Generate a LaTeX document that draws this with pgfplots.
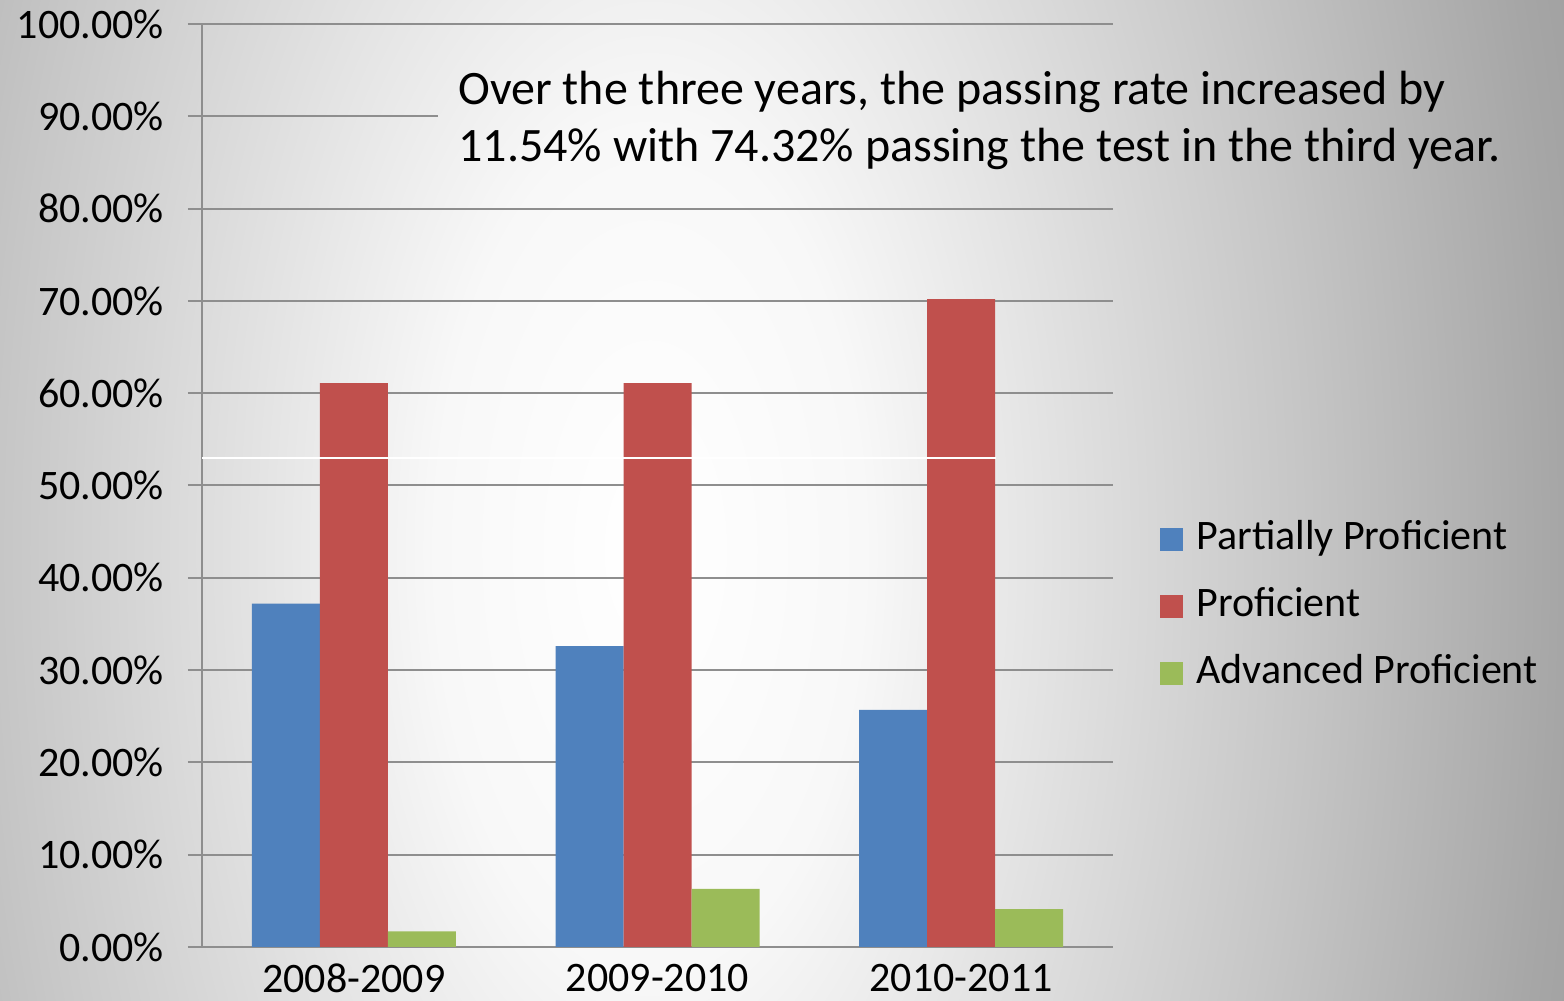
\documentclass[border=0pt]{standalone}
\usepackage{fontspec}
\setmainfont{Carlito}
\usepackage{pgfplots}
\pgfplotsset{compat=1.18}
\definecolor{ppBlue}{HTML}{4F81BD}
\definecolor{ppRed}{HTML}{C0504D}
\definecolor{ppGreen}{HTML}{9BBB59}
\definecolor{gridgray}{HTML}{8E8E8E}
\definecolor{bgA}{HTML}{F8F8F8}
\definecolor{bgB}{HTML}{C6C6C6}
\definecolor{bgC}{HTML}{A6A6A6}
\definecolor{bgD}{HTML}{989898}
\pgfdeclareradialshading{slidebg}{\pgfpoint{0bp}{0bp}}{color(0bp)=(white); color(5bp)=(bgA); color(15.2bp)=(bgB); color(21.3bp)=(bgC); color(25bp)=(bgD); color(100bp)=(bgD)}
\pgfplotsset{sqlegend/.style={legend image code/.code={\fill[##1] (0pt,-5.75pt) rectangle (11.5pt,5.75pt);}}}

\begin{document}
\begin{tikzpicture}[font=\fontsize{21}{25}\selectfont]
  \useasboundingbox (0,0) rectangle (782pt,500.5pt);
  \clip (0,0) rectangle (782pt,500.5pt);
  \shade[shading=slidebg] (325pt,225.5pt) ellipse (535pt and 1050pt);
  \begin{axis}[
    at={(101pt,27pt)}, anchor=south west,
    scale only axis, width=455.5pt, height=461.5pt,
    xmin=-0.5, xmax=2.5, ymin=0, ymax=100,
    ybar=0pt, bar width=34pt,
    axis lines*=left,
    axis line style={gridgray, line width=1pt},
    tick align=outside,
    major tick length=7pt,
    xtick={0,1,2},
    xticklabels={2008-2009,2009-2010,2010-2011},
    x tick style={draw=none},
    xticklabel style={yshift=2pt},
    extra x ticks={-0.5,0.5,1.5,2.5},
    extra x tick labels={},
    extra x tick style={major tick length=30pt, tick style={draw=gridgray, line width=0.7pt}},
    ytick={0,10,20,30,40,50,60,70,80,100},
    yticklabels={0.00\%,10.00\%,20.00\%,30.00\%,40.00\%,50.00\%,60.00\%,70.00\%,80.00\%,100.00\%},
    extra y ticks={90},
    extra y tick labels={90.00\%},
    extra y tick style={grid=none},
    ymajorgrids,
    grid style={gridgray, line width=1pt},
    y tick style={gridgray, line width=1pt},
    tick label style={font=\fontsize{21}{25}\selectfont, text=black},
    yticklabel style={xshift=-8.5pt},
    legend style={at={(1.0516,0.3684)}, anchor=west, draw=none, fill=none,
      inner sep=0pt, column sep=6.5pt, row sep=15.5pt,
      nodes={inner sep=0pt, text height=14pt, text depth=4pt,
        font=\fontsize{21}{25}\selectfont}},
    legend cell align=left,
  ]
    \addplot[fill=ppBlue, draw=none, sqlegend] coordinates {(0,37.2) (1,32.6) (2,25.7)};
    \addplot[fill=ppRed, draw=none, sqlegend] coordinates {(0,61.1) (1,61.1) (2,70.2)};
    \addplot[fill=ppGreen, draw=none, sqlegend] coordinates {(0,1.7) (1,6.3) (2,4.1)};
    \legend{Partially Proficient,Proficient,Advanced Proficient}
    \draw[gridgray, line width=1pt] (axis cs:-0.5,90) -- (axis cs:0.277,90);
    \draw[white, line width=0.6pt] (axis cs:-0.5,52.98) -- (axis cs:2.115,52.98);
  \end{axis}
  \node[anchor=base west, inner sep=0pt, font=\fontsize{24}{28}\selectfont] at (229pt,448pt)
    {Over the three years, the passing rate increased by};
  \node[anchor=base west, inner sep=0pt, font=\fontsize{24}{28}\selectfont] at (229pt,419.5pt)
    {11.54\% with 74.32\% passing the test in the third year.};
\end{tikzpicture}
\end{document}
